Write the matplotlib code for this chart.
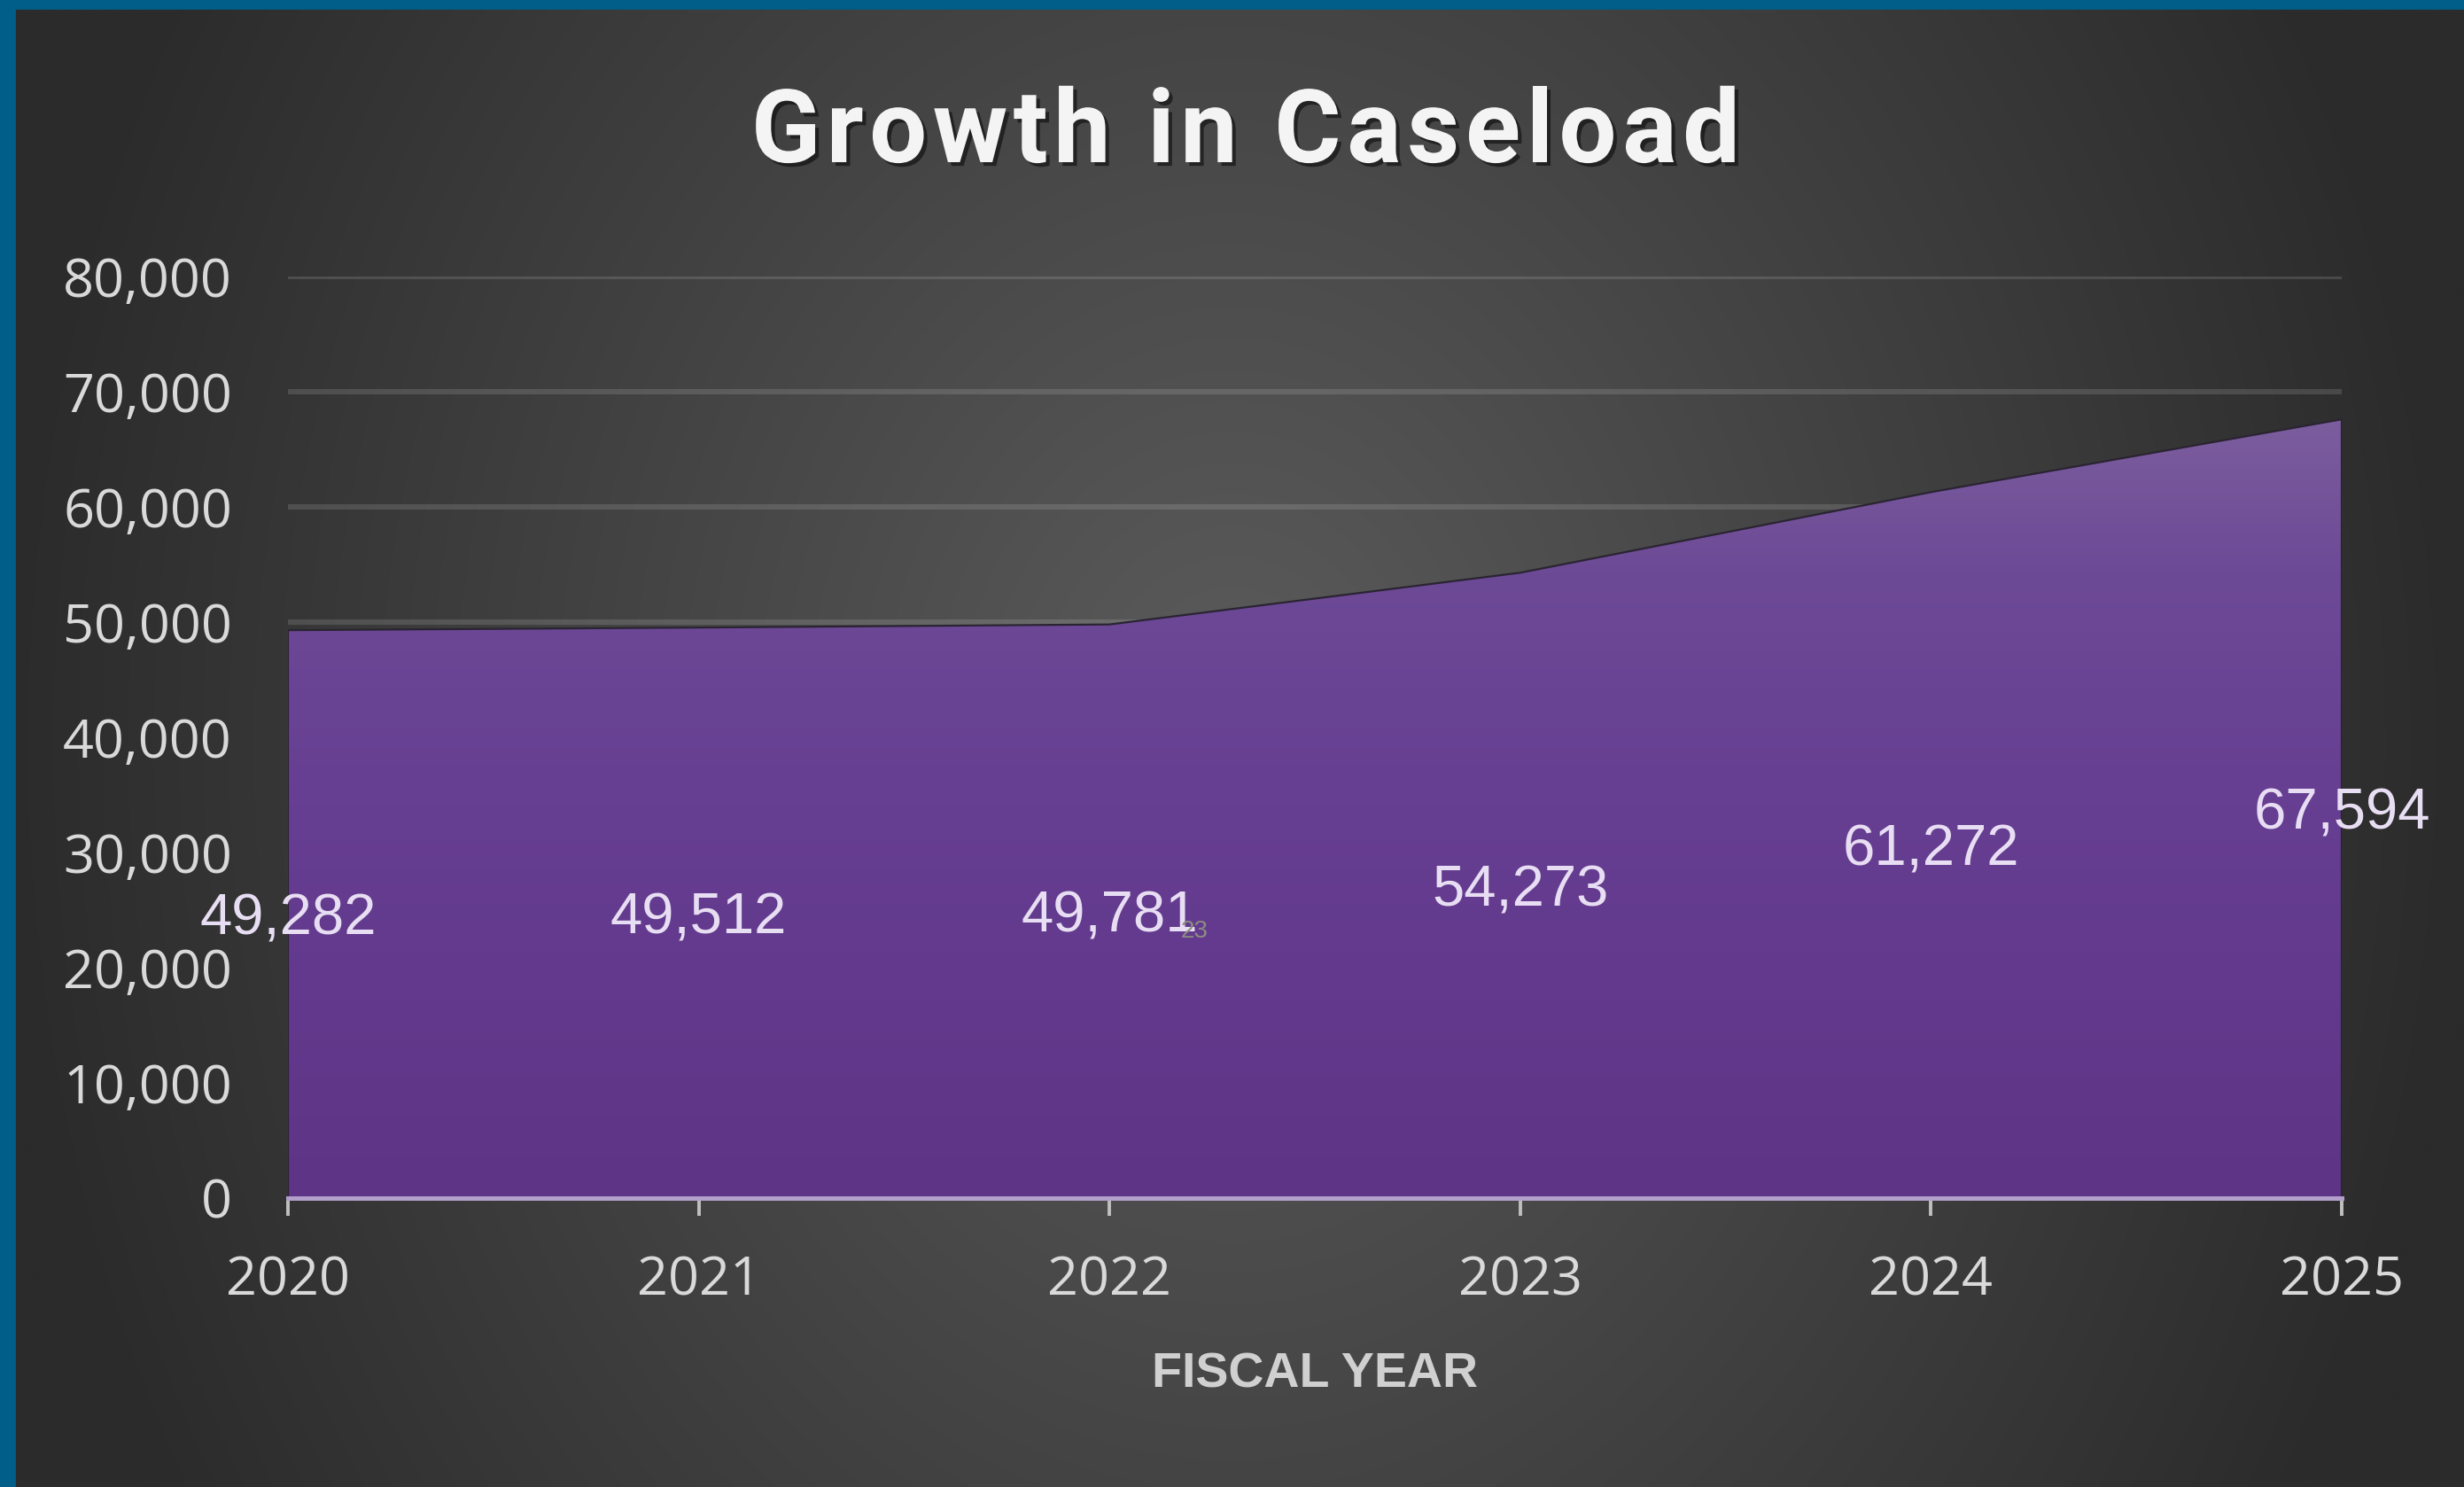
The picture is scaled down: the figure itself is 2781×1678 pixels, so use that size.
import numpy as np
import matplotlib.pyplot as plt
import matplotlib.patheffects as pe
from matplotlib.colors import LinearSegmentedColormap
from matplotlib.patches import Rectangle
from matplotlib.ticker import FuncFormatter
from matplotlib.font_manager import FontProperties
from matplotlib.textpath import TextToPath

# data
years = [2020, 2021, 2022, 2023, 2024, 2025]
caseload = [49282, 49512, 49781, 54273, 61272, 67594]
y_ticks = [0, 10000, 20000, 30000, 40000, 50000, 60000, 70000, 80000]
title = 'Growth in Caseload'
x_label = 'FISCAL YEAR'

W, H, DPI = 2781, 1678, 200
fig = plt.figure(figsize=(W / DPI, H / DPI), dpi=DPI)

# dark radial background
bg = fig.add_axes([0, 0, 1, 1], zorder=-10)
gx, gy = np.meshgrid(np.linspace(0, 1, 400), np.linspace(0, 1, 240))
d = np.sqrt(((gx - 0.5) / 0.5) ** 2 + ((gy - 0.5) / 1.03) ** 2)
shade = (92 - 49 * np.clip(d, 0, 1)) / 255
bg.imshow(np.dstack([shade, shade, shade]), extent=[0, 1, 0, 1],
          aspect='auto', interpolation='bilinear')
bg.set_axis_off()

# blue frame on the top and left
fig.patches.append(Rectangle((0, 1 - 9 / H), 1, 9 / H, transform=fig.transFigure,
                             color='#005e88', zorder=10))
fig.patches.append(Rectangle((0, 0), 16 / W, 1, transform=fig.transFigure,
                             color='#005e88', zorder=10))

ax = fig.add_axes([325 / W, 1 - 1351.5 / H, (2643 - 325) / W, (1351.5 - 312) / H])
ax.patch.set_alpha(0)

# area with vertical purple gradient
poly = ax.fill_between(years, 0, caseload, facecolor='none',
                       edgecolor='#2a2432', linewidth=0.8, zorder=2)
cmap = LinearSegmentedColormap.from_list(
    'purp', [(0, '#5e3486'), (0.5, '#663e92'), (0.8, '#6d4a96'), (1, '#7c5e9e')])
grad = np.linspace(0, 1, 256).reshape(-1, 1)
im = ax.imshow(grad, extent=[years[0], years[-1], 0, 68000], aspect='auto',
               cmap=cmap, origin='lower', zorder=1.9)
im.set_clip_path(poly.get_paths()[0], transform=ax.transData)

ax.set_xlim(years[0], years[-1])
ax.set_ylim(0, 80000)
ax.set_xticks(years)
ax.set_yticks(y_ticks)
ax.yaxis.set_major_formatter(FuncFormatter(lambda v, p: f'{v:,.0f}'))

ax.set_axisbelow(True)
ax.yaxis.grid(True, color='white', alpha=0.13, linewidth=2.2)
for s in ['top', 'right', 'left']:
    ax.spines[s].set_visible(False)
ax.spines['bottom'].set_color('#b29fcc')
ax.spines['bottom'].set_linewidth(1.8)

ax.tick_params(axis='x', direction='out', length=7.2, width=1.4, color='#bfbfbf',
               pad=16, labelsize=22, labelcolor='#d9d9d9')
ax.tick_params(axis='y', length=0, pad=22.7, labelsize=22, labelcolor='#d9d9d9')
for lab in ax.get_xticklabels() + ax.get_yticklabels():
    lab.set_family('Open Sans')

# data labels in the middle of the area
for x, v in zip(years, caseload):
    ax.text(x, v / 2, f'{v:,}', ha='center', va='center_baseline', fontsize=23.5,
            family='Liberation Sans', color='#e8def3', zorder=5, clip_on=False)

ax.set_xlabel(x_label, fontsize=20, fontweight='bold', family='Liberation Sans',
              color='#d0d0d0', labelpad=18)

# title with letter spacing, drawn one character at a time
tprop = FontProperties(family='Roboto', weight='bold', size=41.4)
ttp = TextToPath()
char_w = [ttp.get_text_width_height_descent(c, tprop, ismath=False)[0] * DPI / 72
          for c in title]
gap = 6.5
total = sum(char_w) + gap * (len(title) - 1)
xpos = 1406 - total / 2
shadow = [pe.withSimplePatchShadow(offset=(1.5, -1.5), shadow_rgbFace='black', alpha=0.5)]
for c, w in zip(title, char_w):
    fig.text(xpos / W, 1 - 183 / H, c, ha='left', va='baseline',
             fontproperties=tprop, color='#f4f4f4', path_effects=shadow)
    xpos += w + gap

fig.text(1333 / W, 1 - 1058 / H, '23', fontsize=10, color='#8c8c82',
         family='Liberation Sans')

fig.savefig('out.png', dpi=DPI)
